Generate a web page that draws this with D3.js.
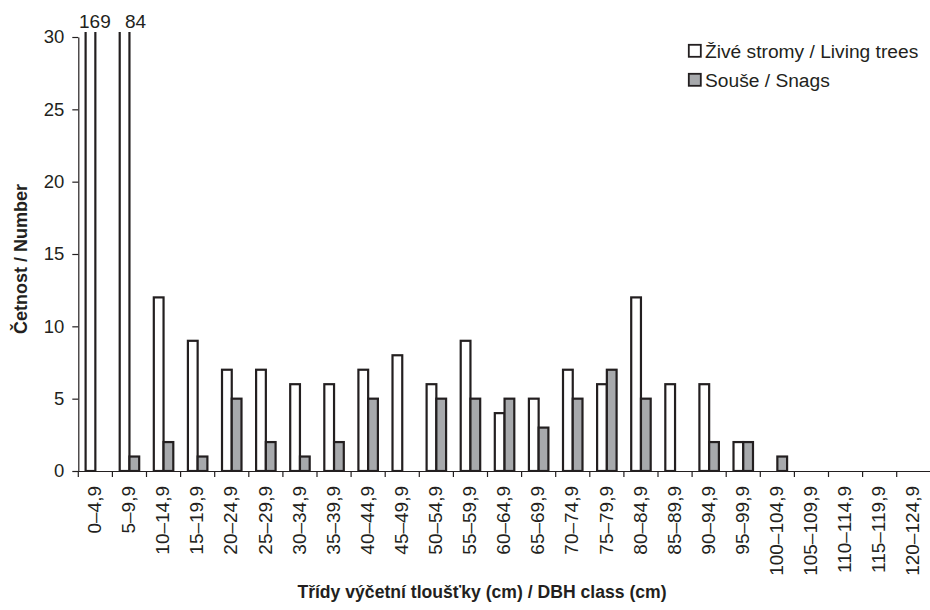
<!DOCTYPE html>
<html>
<head>
<meta charset="utf-8">
<script src="https://cdn.jsdelivr.net/npm/d3@7"></script>
<style>
html,body{margin:0;padding:0;background:#fff;}
svg{display:block;font-family:"Liberation Sans",Arial,sans-serif;}
</style>
</head>
<body>
<svg id="chart" width="930" height="610"></svg>
<script>
const categories = ["0–4,9","5–9,9","10–14,9","15–19,9","20–24,9","25–29,9","30–34,9","35–39,9","40–44,9","45–49,9","50–54,9","55–59,9","60–64,9","65–69,9","70–74,9","75–79,9","80–84,9","85–89,9","90–94,9","95–99,9","100–104,9","105–109,9","110–114,9","115–119,9","120–124,9"];
const livingTrees = [169,84,12,9,7,7,6,6,7,8,6,9,4,5,7,6,12,6,6,2,0,0,0,0,0];
const snags = [0,1,2,1,5,2,1,2,5,0,5,5,5,3,5,7,5,0,2,2,1,0,0,0,0];
const yTicks = [0,5,10,15,20,25,30];
const seriesNames = ["Živé stromy / Living trees","Souše / Snags"];
const yTitle = "Četnost / Number";
const xTitle = "Třídy výčetní tloušťky (cm) / DBH class (cm)";

const ink = "#231f20";
const fills = ["#ffffff", "#a7a9ac"];
const FONT = "Liberation Sans, Arial, sans-serif";

const svg = d3.select("#chart");
const pL = 78.3, pR = 930.8, pT = 37, pB = 471;

const x = d3.scaleBand().domain(categories).range([pL, pR]).padding(0);
const xs = d3.scaleBand().domain([0,1]).range([0, x.bandwidth()]).paddingInner(0).paddingOuter(0.75);
const y = d3.scaleLinear().domain([0,30]).range([pB, pT]);

svg.append("defs").append("clipPath").attr("id","plotclip")
  .append("rect").attr("x", pL).attr("y", pT - 5).attr("width", pR - pL).attr("height", pB - pT + 5);

const data = categories.map((c,i) => ({c, vals:[livingTrees[i], snags[i]]}));

const barsG = svg.append("g").attr("clip-path","url(#plotclip)");
[0,1].forEach(s => {
  barsG.selectAll(".b"+s).data(data.filter(d => d.vals[s] > 0)).join("rect")
    .attr("x", d => x(d.c) + xs(s))
    .attr("width", xs.bandwidth())
    .attr("y", d => y(d.vals[s]))
    .attr("height", d => y(0) - y(d.vals[s]))
    .attr("fill", fills[s])
    .attr("stroke", ink)
    .attr("stroke-width", 2.2);
});

// Values that run off the scale
const over = [{i:0, dx:-6.6}, {i:1, dx:5.3}];
over.forEach(o => {
  svg.append("text")
    .attr("x", x(categories[o.i]) + xs(0) + o.dx)
    .attr("y", 28)
    .attr("font-size", 19)
    .attr("fill", ink)
    .text(livingTrees[o.i]);
});

// Y axis
const yAxis = d3.axisLeft(y).tickValues(yTicks).tickSize(6).tickSizeOuter(0).tickPadding(8);
const gy = svg.append("g").attr("transform", `translate(${pL},0)`).call(yAxis);
gy.select(".domain").attr("stroke", ink).attr("stroke-width", 1.2);
gy.selectAll(".tick line").attr("stroke", ink).attr("stroke-width", 1.2);
gy.selectAll(".tick text").attr("font-size", 18.5).attr("fill", ink).attr("font-family", FONT);

// X axis
const xAxis = d3.axisBottom(x).tickSize(0).tickSizeOuter(0).tickPadding(0);
const gx = svg.append("g").attr("transform", `translate(0,${pB})`).call(xAxis);
gx.select(".domain").attr("stroke", ink).attr("stroke-width", 1.2);
gx.selectAll(".tick text")
  .attr("font-size", 19).attr("fill", ink).attr("font-family", FONT)
  .attr("transform", "rotate(-90)")
  .attr("text-anchor", "end")
  .attr("x", -15).attr("y", -1).attr("dy", "0.35em");
// boundary ticks
const bounds = categories.map(c => x(c)).concat([pR]);
gx.selectAll(".btick").data(bounds).join("line")
  .attr("x1", d => d).attr("x2", d => d).attr("y1", 0).attr("y2", 6)
  .attr("stroke", ink).attr("stroke-width", 1.2);

// Titles
svg.append("text")
  .attr("transform", `translate(27,259) rotate(-90)`)
  .attr("text-anchor","middle")
  .attr("font-size", 18).attr("font-weight","bold").attr("fill", ink)
  .text(yTitle);
svg.append("text")
  .attr("x", 482).attr("y", 598)
  .attr("text-anchor","middle")
  .attr("font-size", 17.6).attr("font-weight","bold").attr("fill", ink)
  .text(xTitle);

// Legend
const lg = svg.append("g").attr("transform","translate(688,44)");
seriesNames.forEach((n,i) => {
  const g = lg.append("g").attr("transform", `translate(0,${i*29})`);
  g.append("rect").attr("x",0.8).attr("y",0.8).attr("width",12).attr("height",12)
    .attr("fill", fills[i]).attr("stroke", ink).attr("stroke-width", 1.8);
  g.append("text").attr("x", 17).attr("y", 14).attr("font-size", 19.2).attr("fill", ink).text(n);
});
</script>
</body>
</html>
